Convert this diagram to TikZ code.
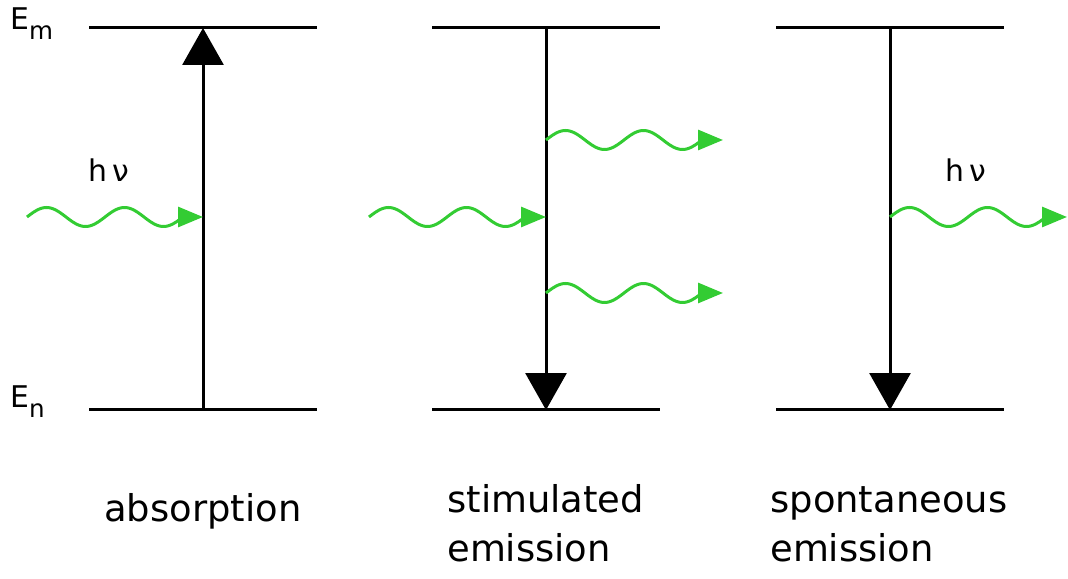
\documentclass[tikz,border=0pt]{standalone}
\usepackage{fontspec}
\setmainfont{DejaVu Sans}
\usepackage{tikz}
\usetikzlibrary{arrows.meta}
\definecolor{photongreen}{RGB}{51, 204, 51}
\newcommand{\lvlsub}[1]{\raisebox{-0.32em}{\fontsize{14}{14}\selectfont #1}}
\newcommand{\wavy}[2]{%
	\begin{scope}[shift={(#1)}]
		\draw[photon] plot[domain=0:156, samples=90, smooth] (\x, {9.5*sin(4.6154*\x)}) -- (#2);
	\end{scope}}

\begin{document}
\begin{tikzpicture}[x=0.02cm, y=0.02cm,
		level/.style={black, line width=0.06cm},
		transition/.style={black, line width=0.06cm, -{Triangle[length=0.74cm, width=0.82cm]}},
		photon/.style={photongreen, line width=0.06cm, -{Triangle[length=0.5cm, width=0.4cm]}},
		lbl/.style={inner sep=0pt, font=\fontsize{21}{27}\selectfont}]
			\def\ym{550}
			\def\yn{168}
			\def\hw{114}
			\useasboundingbox (0, 0) rectangle (1068, 578);

			% energy levels
			\foreach \xc/\name in {203/a, 546/b, 890/c} {
				\coordinate (\name m) at (\xc, \ym);
				\coordinate (\name n) at (\xc, \yn);
				\draw[level] (\xc-\hw, \ym) -- (\xc+\hw, \ym);
				\draw[level] (\xc-\hw, \yn) -- (\xc+\hw, \yn);
			}

			\draw[transition] (an) -- (am);
			\draw[transition] (bm) -- (bn);
			\draw[transition] (cm) -- (cn);

			% photons
			\coordinate (ain)  at (27, 361);
			\coordinate (ahit) at (203, 361);
			\coordinate (bin)  at (369, 361);
			\coordinate (bhit) at (546, 361);
			\coordinate (bup)  at (546, 438);
			\coordinate (bupout) at (723, 438);
			\coordinate (blo)  at (546, 285);
			\coordinate (bloout) at (723, 285);
			\coordinate (cemit) at (890, 361);
			\coordinate (cout) at (1067, 361);

			\wavy{ain}{ahit}
			\wavy{bin}{bhit}
			\wavy{bup}{bupout}
			\wavy{blo}{bloout}
			\wavy{cemit}{cout}

			\node[inner sep=0pt, anchor=base west, font=\fontsize{17}{17}\selectfont] (Em) at (10, \ym-2) {E\lvlsub{m}};
			\node[inner sep=0pt, anchor=base west, font=\fontsize{17}{17}\selectfont] (En) at (10, \yn+2) {E\lvlsub{n}};

			\node[inner sep=0pt, anchor=base west, font=\fontsize{17}{17}\selectfont] (hva) at (88, 396) {h\,ν};
			\node[inner sep=0pt, anchor=base west, font=\fontsize{17}{17}\selectfont] (hvc) at (945, 396) {h\,ν};

			\node[lbl, anchor=base west] (abs) at (104, 56) {absorption};
			\node[lbl, anchor=base west] (stim) at (447, 65) {stimulated};
			\node[lbl, anchor=base west] (stimb) at (447, 16) {emission};
			\node[lbl, anchor=base west] (spon) at (770, 65) {spontaneous};
			\node[lbl, anchor=base west] (sponb) at (770, 16) {emission};

		\end{tikzpicture}
\end{document}
